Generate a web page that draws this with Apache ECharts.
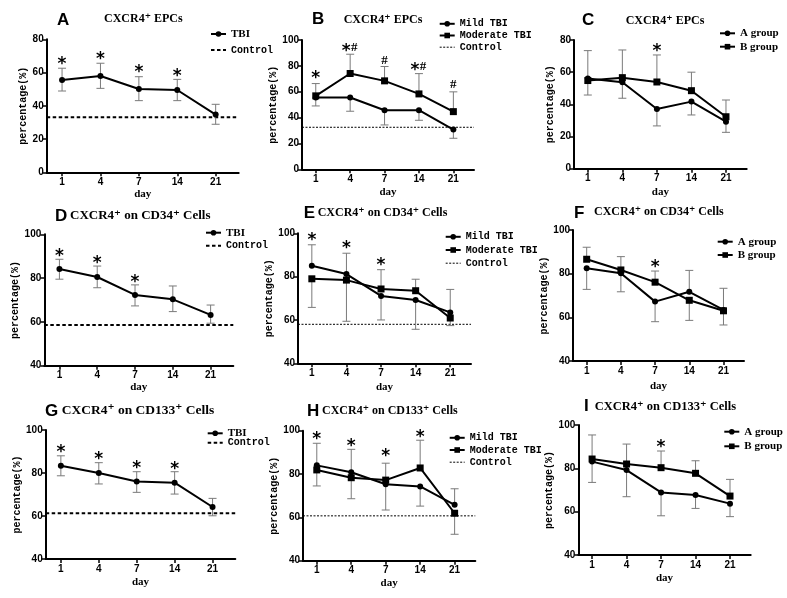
<!DOCTYPE html>
<html><head><meta charset="utf-8">
<script src="https://cdn.jsdelivr.net/npm/echarts@6/dist/echarts.min.js"></script>
<style>html,body{margin:0;padding:0;background:#fff}#c{width:787px;height:598px}</style>
</head><body><div id="c"></div>
<script>
// ---------- shared categories ----------
const DAYS = ['1', '4', '7', '14', '21'];

// ---------- Panel A : CXCR4+ EPCs (TBI vs control) ----------
const A_TBI      = [55.5, 57.9, 50.1, 49.5, 34.7];
const A_TBI_UP   = [62.6, 65.6, 57.5, 55.9, 40.9];
const A_TBI_DOWN = [48.9, 50.5, 43.1, 43.1, 28.9];
const A_CONTROL  = 33.1;
const A_SIG      = ['*', '*', '*', '*', ''];
const A_SIG_Y    = [67, 70.2, 62.6, 60, null];

// ---------- Panel B : CXCR4+ EPCs (Mild / Moderate) ----------
const B_MILD      = [55.5, 55.5, 45.7, 45.7, 30.7];
const B_MILD_UP   = [null, null, null, null, null];
const B_MILD_DOWN = [49, 44.9, 34.3, 37.9, 24];
const B_MOD       = [56.8, 74.1, 68.4, 58.3, 44.6];
const B_MOD_UP    = [66.3, 89, 79.5, 74, 59.9];
const B_MOD_DOWN  = [null, null, null, null, null];
const B_CONTROL   = 32.5;
const B_SIG       = ['*', '*#', '#', '*#', '#'];
const B_SIG_Y     = [73, 94, 84, 79.5, 65.3];

// ---------- Panel C : CXCR4+ EPCs (A / B group) ----------
const C_A      = [56, 53.7, 37.1, 41.7, 29.2];
const C_A_UP   = [73.4, null, null, null, null];
const C_A_DOWN = [null, 43.8, 26.6, 33.4, 22.6];
const C_B      = [54.8, 56.6, 53.9, 48.5, 32.3];
const C_B_UP   = [null, 73.8, 70.7, 60, 42.7];
const C_B_DOWN = [45.8, null, null, null, null];
const C_SIG    = ['', '', '*', '', ''];
const C_SIG_Y  = [null, null, 75.3, null, null];

// ---------- Panel D : CXCR4+ on CD34+ (TBI vs control) ----------
const D_TBI      = [84.2, 80.5, 72.3, 70.3, 63.2];
const D_TBI_UP   = [88.6, 85.5, 76.9, 76.4, 67.7];
const D_TBI_DOWN = [79.5, 75.6, 67.3, 64.7, 59.4];
const D_CONTROL  = 58.6;
const D_SIG      = ['*', '*', '*', '', ''];
const D_SIG_Y    = [91.8, 88.6, 79.9, null, null];

// ---------- Panel E : CXCR4+ on CD34+ (Mild / Moderate) ----------
const E_MILD      = [85.0, 81.2, 71.1, 69.2, 63.5];
const E_MILD_UP   = [94.7, 90.8, null, null, 74.1];
const E_MILD_DOWN = [null, null, 60, 55.7, null];
const E_MOD       = [79.0, 78.4, 74.3, 73.5, 60.9];
const E_MOD_UP    = [null, null, 83.2, 78.8, null];
const E_MOD_DOWN  = [65.8, 59.4, null, null, 57.4];
const E_CONTROL   = 58.0;
const E_SIG       = ['*', '*', '*', '', ''];
const E_SIG_Y     = [98.4, 94.6, 86.9, null, null];

// ---------- Panel F : CXCR4+ on CD34+ (A / B group) ----------
const F_A      = [82.5, 80.2, 67.2, 71.7, 63.4];
const F_A_UP   = [null, null, null, 81.5, null];
const F_A_DOWN = [72.8, 71.7, 58, null, 56.5];
const F_B      = [86.6, 81.7, 76.1, 67.8, 63.0];
const F_B_UP   = [92.1, 87.8, 81.2, null, 73.3];
const F_B_DOWN = [null, null, null, 58.6, null];
const F_SIG    = ['', '', '*', '', ''];
const F_SIG_Y  = [null, null, 84.4, null, null];

// ---------- Panel G : CXCR4+ on CD133+ (TBI vs control) ----------
const G_TBI      = [83.4, 80.0, 76.0, 75.5, 64.2];
const G_TBI_UP   = [88, 84.8, 80.6, 80.6, 68.2];
const G_TBI_DOWN = [78.7, 74.9, 71, 70.2, 60.1];
const G_CONTROL  = 61.3;
const G_SIG      = ['*', '*', '*', '*', ''];
const G_SIG_Y    = [91.5, 87.9, 84, 83.3, null];

// ---------- Panel H : CXCR4+ on CD133+ (Mild / Moderate) ----------
const H_MILD      = [84.0, 80.8, 75.3, 74.3, 65.8];
const H_MILD_UP   = [94.2, 91.4, null, null, 73.2];
const H_MILD_DOWN = [null, null, 63.4, 65.2, null];
const H_MOD       = [81.9, 78.3, 77.2, 82.8, 61.9];
const H_MOD_UP    = [null, null, 85, 95.6, null];
const H_MOD_DOWN  = [74.5, 68.6, null, null, 52.2];
const H_CONTROL   = 60.7;
const H_SIG       = ['*', '*', '*', '*', ''];
const H_SIG_Y     = [97.6, 94.7, 90, 98.8, null];

// ---------- Panel I : CXCR4+ on CD133+ (A / B group) ----------
const I_A      = [83.1, 79.2, 68.9, 67.7, 63.7];
const I_A_UP   = [null, null, null, null, null];
const I_A_DOWN = [73.5, 66.9, 58.1, 61.5, 57.7];
const I_B      = [84.3, 82.0, 80.3, 77.7, 67.2];
const I_B_UP   = [95.4, 91.2, 88, 83.5, 74.9];
const I_B_DOWN = [null, null, null, null, null];
const I_SIG    = ['', '', '*', '', ''];
const I_SIG_Y  = [null, null, 91.5, null, null];

// ---------- layout / style ----------
const X_MIN = 0.6, X_MAX = 5.6;
const MONO = '"Liberation Mono", "DejaVu Sans Mono", monospace';
const SERIF = '"Liberation Serif", "DejaVu Serif", serif';
const SANS = '"Liberation Sans", Arial, sans-serif';
const ERR_COLOR = '#7a7a7a';

const panels = [
  { box: [46.7, 39.3, 238.7, 172.3], yMin: 0, yMax: 80, yGap: 17, xGap: 15,
    lines: [{ name: 'TBI', v: A_TBI, up: A_TBI_UP, down: A_TBI_DOWN, sym: 'circle' }],
    control: A_CONTROL, thick: true, sig: A_SIG, sigY: A_SIG_Y,
    legend: { left: 210, top: 28.5, gap: 5.5, items: [['TBI', SERIF, 11], ['Control', MONO, 10]] },
    letter: ['A', 57, 20], title: ['CXCR4\u207A EPCs', 104, 19, 12] },
  { box: [302, 40, 474, 169.3], yMin: 0, yMax: 100, yGap: 8, xGap: 17,
    lines: [{ name: 'Mild TBI', v: B_MILD, up: B_MILD_UP, down: B_MILD_DOWN, sym: 'circle' },
            { name: 'Moderate TBI', v: B_MOD, up: B_MOD_UP, down: B_MOD_DOWN, sym: 'rect' }],
    control: B_CONTROL, thick: false, sig: B_SIG, sigY: B_SIG_Y,
    legend: { left: 438.7, top: 18.8, gap: 1.7, items: [['Mild TBI', MONO, 10], ['Moderate TBI', MONO, 10], ['Control', MONO, 10]] },
    letter: ['B', 312, 19], title: ['CXCR4\u207A EPCs', 343.7, 19.5, 12] },
  { box: [574, 40, 746.7, 168.7], yMin: 0, yMax: 80, yGap: 15, xGap: 18,
    lines: [{ name: 'A group', v: C_A, up: C_A_UP, down: C_A_DOWN, sym: 'circle' },
            { name: 'B group', v: C_B, up: C_B_UP, down: C_B_DOWN, sym: 'rect' }],
    control: null, sig: C_SIG, sigY: C_SIG_Y,
    legend: { left: 719, top: 27.8, gap: 2.4, items: [['A group', SERIF, 11], ['B group', SERIF, 11]] },
    letter: ['C', 582, 20], title: ['CXCR4\u207A EPCs', 625.7, 20.5, 12] },

  { box: [44.3, 234.3, 233.3, 365.7], yMin: 40, yMax: 100, yGap: 22.6, xGap: 16,
    lines: [{ name: 'TBI', v: D_TBI, up: D_TBI_UP, down: D_TBI_DOWN, sym: 'circle' }],
    control: D_CONTROL, thick: true, sig: D_SIG, sigY: D_SIG_Y,
    legend: { left: 205, top: 227.2, gap: 2.6, items: [['TBI', SERIF, 11], ['Control', MONO, 10]] },
    letter: ['D', 55, 216.7], title: ['CXCR4\u207A on CD34\u207A Cells', 70, 215.7, 13] },
  { box: [298, 233.3, 471, 363.3], yMin: 40, yMax: 100, yGap: 17.7, xGap: 18,
    lines: [{ name: 'Mild TBI', v: E_MILD, up: E_MILD_UP, down: E_MILD_DOWN, sym: 'circle' },
            { name: 'Moderate TBI', v: E_MOD, up: E_MOD_UP, down: E_MOD_DOWN, sym: 'rect' }],
    control: E_CONTROL, thick: false, sig: E_SIG, sigY: E_SIG_Y,
    legend: { left: 444.7, top: 231.8, gap: 3.2, items: [['Mild TBI', MONO, 10], ['Moderate TBI', MONO, 10], ['Control', MONO, 10]] },
    letter: ['E', 303.7, 213.3], title: ['CXCR4\u207A on CD34\u207A Cells', 317.7, 213, 12] },
  { box: [573, 230, 744, 361], yMin: 40, yMax: 100, yGap: 19, xGap: 19.7,
    lines: [{ name: 'A group', v: F_A, up: F_A_UP, down: F_A_DOWN, sym: 'circle' },
            { name: 'B group', v: F_B, up: F_B_UP, down: F_B_DOWN, sym: 'rect' }],
    control: null, sig: F_SIG, sigY: F_SIG_Y,
    legend: { left: 716.7, top: 236.2, gap: 2.3, items: [['A group', SERIF, 11], ['B group', SERIF, 11]] },
    letter: ['F', 574, 213], title: ['CXCR4\u207A on CD34\u207A Cells', 594, 212, 12] },

  { box: [45.7, 430, 235.3, 559], yMin: 40, yMax: 100, yGap: 22.4, xGap: 18,
    lines: [{ name: 'TBI', v: G_TBI, up: G_TBI_UP, down: G_TBI_DOWN, sym: 'circle' }],
    control: G_CONTROL, thick: true, sig: G_SIG, sigY: G_SIG_Y,
    legend: { left: 206.7, top: 427.8, gap: -1, items: [['TBI', SERIF, 11], ['Control', MONO, 10]] },
    letter: ['G', 45, 411.7], title: ['CXCR4\u207A on CD133\u207A Cells', 61.7, 411, 13.5] },
  { box: [303, 430.7, 475.3, 560.7], yMin: 40, yMax: 100, yGap: 18.7, xGap: 16.6,
    lines: [{ name: 'Mild TBI', v: H_MILD, up: H_MILD_UP, down: H_MILD_DOWN, sym: 'circle' },
            { name: 'Moderate TBI', v: H_MOD, up: H_MOD_UP, down: H_MOD_DOWN, sym: 'rect' }],
    control: H_CONTROL, thick: false, sig: H_SIG, sigY: H_SIG_Y,
    legend: { left: 448.7, top: 432.8, gap: 2.2, items: [['Mild TBI', MONO, 10], ['Moderate TBI', MONO, 10], ['Control', MONO, 10]] },
    letter: ['H', 307, 411.7], title: ['CXCR4\u207A on CD133\u207A Cells', 322, 411, 12] },
  { box: [578.3, 425, 750.7, 555], yMin: 40, yMax: 100, yGap: 20.3, xGap: 17.3,
    lines: [{ name: 'A group', v: I_A, up: I_A_UP, down: I_A_DOWN, sym: 'circle' },
            { name: 'B group', v: I_B, up: I_B_UP, down: I_B_DOWN, sym: 'rect' }],
    control: null, sig: I_SIG, sigY: I_SIG_Y,
    legend: { left: 723.3, top: 426.2, gap: 3.6, items: [['A group', SERIF, 11], ['B group', SERIF, 11]] },
    letter: ['I', 584, 406.7], title: ['CXCR4\u207A on CD133\u207A Cells', 594.7, 407, 12.5] }
];

const grids = [], xAxes = [], yAxes = [], series = [], legends = [], graphics = [];
const TICKS = DAYS.map((d, k) => k + 1);
const THICK_DASH = { color: '#000', width: 2, type: [3.5, 2.5] };
const THIN_DOT = { color: '#000', width: 1, type: [2, 1.5] };

function errRender(params, api) {
  const x = api.value(0), v = api.value(1), e = api.value(2);
  const p0 = api.coord([x, v]), p1 = api.coord([x, e]);
  const cap = 4;
  return { type: 'group', children: [
    { type: 'line', shape: { x1: p0[0], y1: p0[1], x2: p1[0], y2: p1[1] }, style: { stroke: ERR_COLOR, lineWidth: 1 } },
    { type: 'line', shape: { x1: p1[0] - cap, y1: p1[1], x2: p1[0] + cap, y2: p1[1] }, style: { stroke: ERR_COLOR, lineWidth: 1 } }
  ] };
}

panels.forEach((p, i) => {
  const [l, t, r, b] = p.box;
  grids.push({ left: l, top: t, width: r - l, height: b - t });
  xAxes.push({
    gridIndex: i, type: 'value', min: X_MIN, max: X_MAX,
    name: 'day', nameLocation: 'middle', nameGap: p.xGap,
    nameTextStyle: { fontFamily: SERIF, fontWeight: 'bold', fontSize: 11, color: '#000' },
    axisLine: { onZero: false, lineStyle: { color: '#000', width: 2 } },
    splitLine: { show: false },
    axisTick: { show: true, length: 4, customValues: TICKS, lineStyle: { color: '#000', width: 1.5 } },
    axisLabel: { customValues: TICKS, formatter: v => DAYS[Math.round(v) - 1], fontFamily: SANS, fontWeight: 'bold', fontSize: 10, color: '#000', margin: 5 }
  });
  yAxes.push({
    gridIndex: i, type: 'value', min: p.yMin, max: p.yMax, interval: 20,
    name: 'percentage(%)', nameLocation: 'middle', nameGap: p.yGap,
    nameTextStyle: { fontFamily: MONO, fontWeight: 'bold', fontSize: 10, color: '#000' },
    axisLine: { show: true, onZero: false, lineStyle: { color: '#000', width: 2 } },
    axisTick: { show: true, length: 4, lineStyle: { color: '#000', width: 1.5 } },
    splitLine: { show: false },
    axisLabel: { fontFamily: SANS, fontWeight: 'bold', fontSize: 10, color: '#000', margin: 3 }
  });

  if (p.control !== null) {
    series.push({
      type: 'line', name: 'Control', xAxisIndex: i, yAxisIndex: i,
      data: [[X_MIN, p.control], [X_MAX, p.control]], symbol: 'none', silent: true, z: 1,
      itemStyle: { color: '#000', opacity: 0 },
      lineStyle: p.thick ? THICK_DASH : THIN_DOT
    });
  }
  p.lines.forEach(s => {
    const errData = [];
    s.v.forEach((v, k) => {
      if (s.up[k] !== null) errData.push([k + 1, v, s.up[k]]);
      if (s.down[k] !== null) errData.push([k + 1, v, s.down[k]]);
    });
    series.push({
      type: 'custom', name: s.name + ' SEM', xAxisIndex: i, yAxisIndex: i, silent: true, z: 2,
      renderItem: errRender, encode: { x: 0, y: 1 }, data: errData
    });
    series.push({
      type: 'line', name: s.name, xAxisIndex: i, yAxisIndex: i, z: 3,
      data: s.v.map((v, k) => [k + 1, v]),
      symbol: s.sym, symbolSize: s.sym === 'rect' ? 7 : 6, showSymbol: true,
      lineStyle: { color: '#000', width: 2 }, itemStyle: { color: '#000' }
    });
  });
  const sigTexts = [], sigData = [];
  p.sig.forEach((txt, k) => {
    if (txt) { sigTexts.push(txt); sigData.push([k + 1, p.sigY[k]]); }
  });
  series.push({
    type: 'custom', name: 'sig' + i, xAxisIndex: i, yAxisIndex: i, silent: true, z: 4,
    encode: { x: 0, y: 1 }, data: sigData,
    renderItem: (params, api) => {
      const pt = api.coord([api.value(0), api.value(1)]);
      const chars = sigTexts[params.dataIndex].split('');
      const w = 8, total = w * chars.length;
      const children = chars.map((c, j) => {
        const cx = pt[0] - total / 2 + w * (j + 0.5);
        return c === '*'
          ? { type: 'text', x: cx, y: pt[1] + 4, style: { text: '*', font: 'bold 17px "DejaVu Sans"', fill: '#000', align: 'center', verticalAlign: 'middle' } }
          : { type: 'text', x: cx, y: pt[1], style: { text: c, font: 'bold 13px ' + SERIF, fill: '#000', align: 'center', verticalAlign: 'middle' } };
      });
      return { type: 'group', children };
    }
  });

  legends.push({
    orient: 'vertical', left: p.legend.left, top: p.legend.top, padding: 0,
    itemWidth: 15, itemHeight: 7, itemGap: p.legend.gap, selectedMode: false,
    data: p.legend.items.map(([name, fam, size]) => {
      const o = { name, textStyle: { fontFamily: fam, fontSize: size, fontWeight: 'bold', color: '#000' } };
      if (name === 'Control') {
        const ls = p.thick ? THICK_DASH : THIN_DOT;
        o.lineStyle = { color: '#000', width: ls.width, type: ls.type };
        o.itemStyle = { color: 'rgba(0,0,0,0)', opacity: 0, borderWidth: 0 };
      }
      return o;
    })
  });

  graphics.push({ type: 'text', x: p.letter[1], y: p.letter[2], silent: true,
    style: { text: p.letter[0], font: 'bold 17px ' + SANS, fill: '#000', verticalAlign: 'middle' } });
  graphics.push({ type: 'text', x: p.title[1], y: p.title[2], silent: true,
    style: { text: p.title[0], font: 'bold ' + p.title[3] + 'px ' + SERIF, fill: '#000', verticalAlign: 'middle' } });
});

const chart = echarts.init(document.getElementById('c'), null, { renderer: 'canvas' });
chart.setOption({
  backgroundColor: '#fff', animation: false,
  grid: grids, xAxis: xAxes, yAxis: yAxes, series, legend: legends, graphic: graphics
});
</script>
</body></html>
